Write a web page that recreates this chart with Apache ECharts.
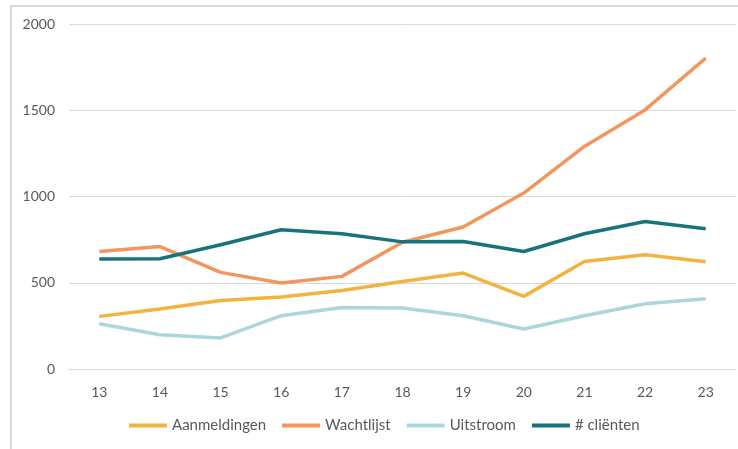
<!DOCTYPE html>
<html>
<head>
<meta charset="utf-8">
<script src="https://cdn.jsdelivr.net/npm/echarts@6/dist/echarts.min.js"></script>
<style>
  html, body { margin: 0; padding: 0; background: #fff; }
  #wrap { position: relative; width: 738px; height: 449px; overflow: hidden; }
  #frame { position: absolute; left: 10px; top: 5px; width: 740px; height: 460px;
           border-left: 2px solid #d9d9d9; border-top: 2px solid #d9d9d9; }
  #main { position: absolute; left: 0; top: 0; width: 738px; height: 449px; }
</style>
</head>
<body>
<div id="wrap">
  <div id="frame"></div>
  <div id="main"></div>
</div>
<script>
// weeknummers
var weeks = ['13', '14', '15', '16', '17', '18', '19', '20', '21', '22', '23'];

var aanmeldingen = [305, 348, 397, 417, 455, 507, 556, 421, 623, 662, 622];
var wachtlijst   = [681, 710, 560, 498, 537, 735, 823, 1020, 1290, 1502, 1802];
var uitstroom    = [262, 199, 180, 309, 357, 353, 309, 232, 309, 378, 407];
var clienten     = [637, 639, 720, 807, 784, 737, 739, 681, 784, 855, 813];

var names  = ['Aanmeldingen', 'Wachtlijst', 'Uitstroom', '# cliënten'];
var colors = ['#F2B340', '#F29660', '#ABD7DC', '#18737D'];

var chart = echarts.init(document.getElementById('main'));

function lijn(i, data) {
  return {
    name: names[i],
    type: 'line',
    data: data,
    symbol: 'none',
    lineStyle: { width: 3.5, color: colors[i] },
    itemStyle: { color: colors[i] }
  };
}

var option = {
  animation: false,
  textStyle: { fontFamily: 'Lato' },
  grid: { left: 69, right: 2, top: 24, bottom: 80, containLabel: false },
  legend: {
    data: names,
    left: 129,
    top: 418,
    padding: 0,
    icon: 'rect',
    itemWidth: 38,
    itemHeight: 4,
    itemGap: 16,
    textStyle: { color: '#595959', fontSize: 15, fontFamily: 'Lato' }
  },
  xAxis: {
    type: 'category',
    data: weeks,
    boundaryGap: true,
    axisLine: { show: true, lineStyle: { color: '#d9d9d9', width: 1 } },
    axisTick: { show: false },
    axisLabel: { color: '#595959', fontSize: 14, margin: 16 }
  },
  yAxis: {
    type: 'value',
    min: 0,
    max: 2000,
    interval: 500,
    axisLine: { show: false },
    axisTick: { show: false },
    axisLabel: {
      color: '#595959', fontSize: 14, margin: 14,
      formatter: function (v) { return String(v); }
    },
    splitLine: { lineStyle: { color: '#d9d9d9', width: 1 } }
  },
  series: [
    lijn(0, aanmeldingen),
    lijn(1, wachtlijst),
    lijn(2, uitstroom),
    lijn(3, clienten)
  ]
};

chart.setOption(option);
</script>
</body>
</html>
